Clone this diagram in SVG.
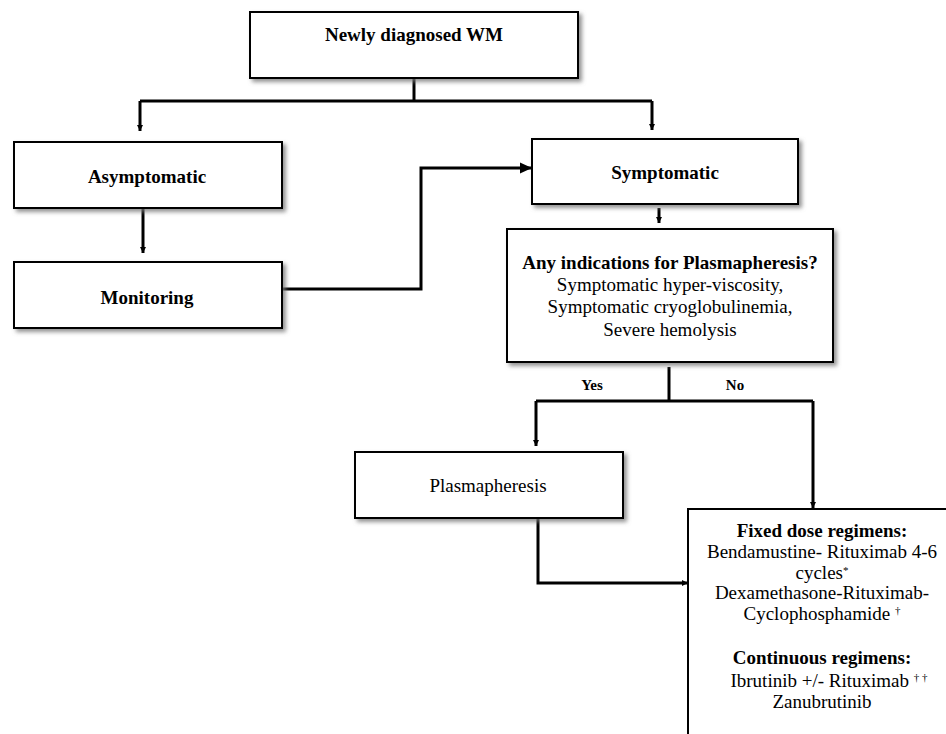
<svg xmlns="http://www.w3.org/2000/svg" width="946" height="734" viewBox="0 0 946 734">
<style>
  .box { fill: #fff; stroke: #000; stroke-width: 2; }
  .sh { filter: url(#shadow); }
  .conn { fill: none; stroke: #000; stroke-width: 3; }
  text { font-family: "Liberation Serif", "Times New Roman", serif; font-size: 19px; fill: #000; text-anchor: middle; }
  .b { font-weight: bold; }
  .lbl { font-size: 15px; font-weight: bold; }
  .sup { font-size: 11px; }
</style>
<defs>
  <filter id="shadow" x="-10%" y="-10%" width="130%" height="140%">
    <feDropShadow dx="3" dy="3" stdDeviation="2" flood-color="#777" flood-opacity="0.8"/>
  </filter>
  <marker id="sm" markerUnits="userSpaceOnUse" markerWidth="8" markerHeight="8" refX="6" refY="4" orient="auto">
    <path d="M0,1 L6,4 L0,7 Z" fill="#000"/>
  </marker>
  <marker id="big" markerUnits="userSpaceOnUse" markerWidth="14" markerHeight="12" refX="12" refY="6" orient="auto">
    <path d="M0,0.5 L12,6 L0,11.5 Z" fill="#000"/>
  </marker>
</defs>
<rect width="946" height="734" fill="#fff"/>

<g id="connectors">
  <path class="conn" d="M414,78 V101"/>
  <path class="conn" d="M140,101 H652"/>
  <path class="conn" d="M140,101 V131" marker-end="url(#sm)"/>
  <path class="conn" d="M652,101 V130" marker-end="url(#sm)"/>
  <path class="conn" d="M143,208 V253" marker-end="url(#sm)"/>
  <path class="conn" d="M282,289 H421 V168 H532" marker-end="url(#big)"/>
  <path class="conn" d="M659,208 V223" marker-end="url(#sm)"/>
  <path class="conn" d="M669,367 V401"/>
  <path class="conn" d="M536,401 H813"/>
  <path class="conn" d="M536,401 V446" marker-end="url(#sm)"/>
  <path class="conn" d="M813,401 V508" marker-end="url(#sm)"/>
  <path class="conn" d="M538,518 V583 H688" marker-end="url(#sm)"/>
  <text class="lbl" x="592" y="390">Yes</text>
  <text class="lbl" x="735" y="390">No</text>
</g>

<g id="newly">
  <rect class="box sh" x="250" y="12" width="328" height="66"/>
  <text class="b" x="414" y="41">Newly diagnosed WM</text>
</g>

<g id="asymptomatic">
  <rect class="box sh" x="14" y="142" width="268" height="66"/>
  <text class="b" x="147" y="183">Asymptomatic</text>
</g>

<g id="monitoring">
  <rect class="box sh" x="14" y="262" width="268" height="66"/>
  <text class="b" x="147" y="304">Monitoring</text>
</g>

<g id="symptomatic">
  <rect class="box sh" x="532" y="139" width="266" height="65"/>
  <text class="b" x="665" y="179">Symptomatic</text>
</g>

<g id="indications">
  <rect class="box sh" x="507" y="229" width="326" height="133"/>
  <text class="b" x="670" y="269">Any indications for Plasmapheresis?</text>
  <text x="670" y="291">Symptomatic hyper-viscosity,</text>
  <text x="670" y="313">Symptomatic cryoglobulinemia,</text>
  <text x="670" y="336">Severe hemolysis</text>
</g>

<g id="plasmapheresis">
  <rect class="box sh" x="355" y="452" width="268" height="66"/>
  <text x="488" y="492">Plasmapheresis</text>
</g>

<g id="regimens">
  <rect class="box" x="688" y="509" width="270" height="240"/>
  <text class="b" x="822" y="537">Fixed dose regimens:</text>
  <text x="822" y="558">Bendamustine- Rituximab 4-6</text>
  <text x="822" y="579">cycles<tspan class="sup" dy="-5">*</tspan></text>
  <text x="822" y="599">Dexamethasone-Rituximab-</text>
  <text x="822" y="620">Cyclophosphamide <tspan class="sup" dy="-6">†</tspan></text>
  <text class="b" x="822" y="664">Continuous regimens:</text>
  <text x="829" y="687">Ibrutinib +/- Rituximab <tspan class="sup" dy="-6">†&#160;†</tspan></text>
  <text x="822" y="708">Zanubrutinib</text>
</g>
</svg>
